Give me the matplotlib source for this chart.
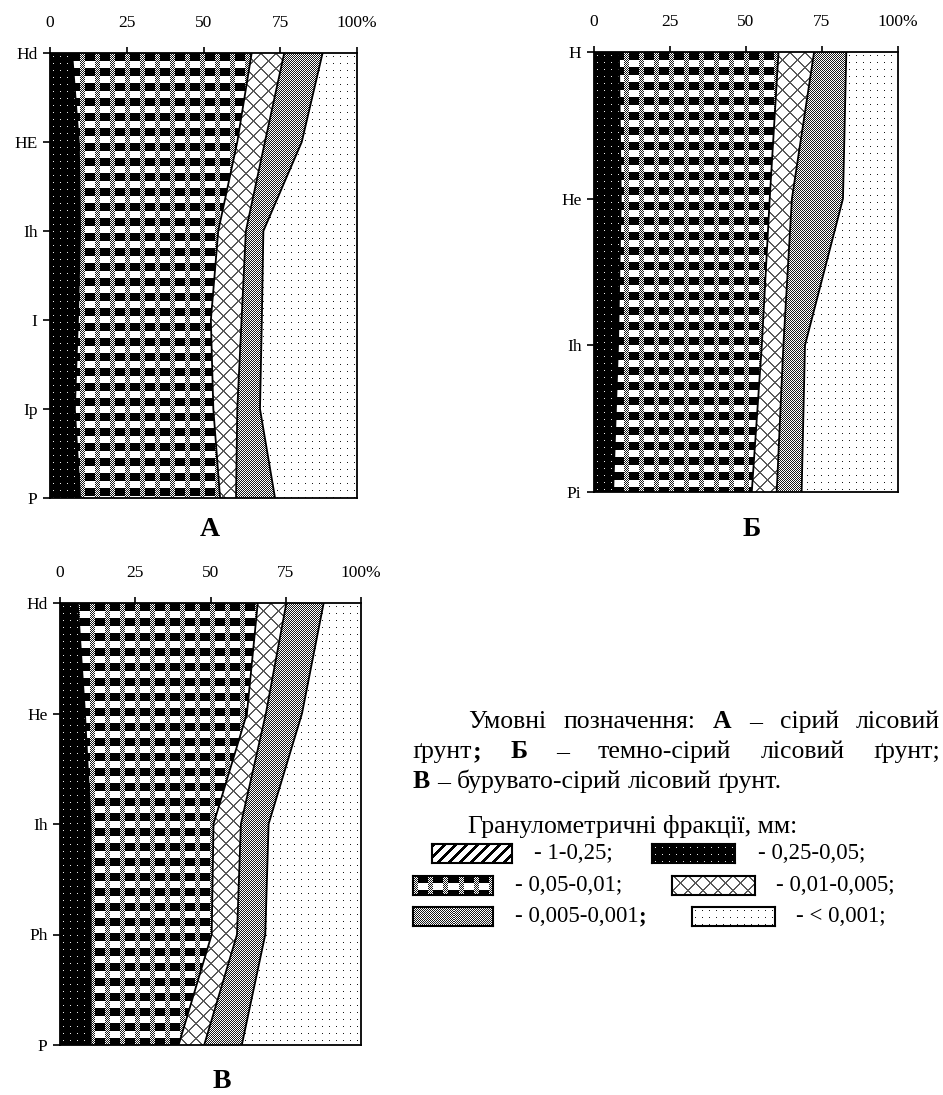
import numpy as np
import matplotlib
matplotlib.use("Agg")
import matplotlib.pyplot as plt

plt.rcParams['font.family'] = ['Liberation Serif', 'DejaVu Serif']

W, H = 943, 1095

# ---------------- data (percent of each fraction per horizon) ----------------
fraction_labels = ["- 1-0,25;", "- 0,25-0,05;", "- 0,05-0,01;", "- 0,01-0,005;",
                   "- 0,005-0,001", "- < 0,001;"]
x_ticks = [0, 25, 50, 75, 100]
x_tick_labels = ["0", "25", "50", "75", "100%"]

horizons_A = ["Hd", "HE", "Ih", "I", "Ip", "P"]
A_1_025 = [0, 0, 0, 0, 0, 0]
A_025_005 = [7.2, 9.4, 9.8, 9.1, 8.1, 9.8]
A_005_001 = [58.5, 51.6, 45.0, 43.3, 45.1, 45.6]
A_001_0005 = [10.6, 9.0, 9.0, 10.0, 7.8, 5.2]
A_0005_0001 = [12.5, 12.0, 5.7, 6.6, 7.4, 12.7]
A_lt_0001 = [11.2, 18.0, 30.5, 31.0, 31.6, 26.7]

horizons_B = ["H", "He", "Ih", "Pi"]
B_1_025 = [0, 0, 0, 0]
B_025_005 = [8.2, 8.8, 7.9, 6.3]
B_005_001 = [52.5, 49.0, 47.3, 45.6]
B_001_0005 = [11.7, 7.3, 7.1, 8.2]
B_0005_0001 = [10.6, 16.8, 7.1, 8.2]
B_lt_0001 = [17.0, 18.1, 30.6, 31.7]

horizons_V = ["Hd", "He", "Ih", "Ph", "P"]
V_1_025 = [0, 0, 0, 0, 0]
V_025_005 = [5.9, 8.3, 10.2, 10.2, 10.2]
V_005_001 = [59.8, 53.8, 40.8, 40.2, 29.2]
V_001_0005 = [9.5, 6.3, 9.1, 8.4, 8.5]
V_0005_0001 = [12.4, 12.0, 9.2, 9.4, 12.5]
V_lt_0001 = [12.4, 19.6, 30.7, 31.8, 39.6]

# ---------------- textures ----------------
def _grid(h, w):
    return np.mgrid[0:h, 0:w]

def tex_diag(h, w):
    y, x = _grid(h, w)
    v = np.where(((x + y) % 11) < 4, 0.0, 1.0)
    return np.dstack([v, v, v])

def tex_black_dots(h, w):
    y, x = _grid(h, w)
    v = np.zeros((h, w))
    v[((x % 7) == 3) & ((y % 7) == 3)] = 0.92
    return np.dstack([v, v, v])

def _gray_v(h, w):
    y, x = _grid(h, w)
    v = np.ones((h, w))
    v[((x + y) % 2 == 0)] = 0.1
    v[((x % 4) == 0) & ((y % 4) == 1)] = 1.0
    return v

def tex_gray(h, w):
    v = _gray_v(h, w)
    return np.dstack([v, v, v])

def tex_check(h, w):
    y, x = _grid(h, w)
    v = np.ones((h, w))
    v[(y % 15) < 8] = 0.0
    g = _gray_v(h, w)
    stripe = (x % 15) < 5
    v[stripe] = g[stripe]
    return np.dstack([v, v, v])

def tex_cross(h, w):
    y, x = _grid(h, w)
    v = np.ones((h, w))
    v[(((x + y) % 15) < 2) | (((x - y) % 15) < 2)] = 0.35
    return np.dstack([v, v, v])

def tex_light_dots(h, w):
    y, x = _grid(h, w)
    v = np.ones((h, w))
    v[((x % 7) == 3) & ((y % 7) == 3)] = 0.1
    return np.dstack([v, v, v])

textures = [tex_diag, tex_black_dots, tex_check, tex_cross, tex_gray, tex_light_dots]

fig = plt.figure(figsize=(W / 100, H / 100), dpi=100)


def draw_panel(rect_px, horizons, fracs, letter, letter_xy):
    l, t, r, b = rect_px
    ax = fig.add_axes([l / W, 1 - b / H, (r - l) / W, (b - t) / H])
    n = len(horizons)
    y = np.arange(n)
    cum = np.vstack([np.zeros(n), np.cumsum(np.array(fracs, dtype=float), axis=0)])
    wpx, hpx = int(round(r - l)), int(round(b - t))
    for k, tex in enumerate(textures):
        poly = ax.fill_betweenx(y, cum[k], cum[k + 1], facecolor='none',
                                linewidth=0, zorder=1)
        im = ax.imshow(tex(hpx, wpx), extent=(0, 100, n - 1, 0), aspect='auto',
                       interpolation='nearest', zorder=1)
        im.set_clip_path(poly.get_paths()[0], ax.transData)
    for k in range(2, 6):
        ax.plot(cum[k], y, color='black', lw=1.3, zorder=3)
    ax.set_xlim(0, 100)
    ax.set_ylim(n - 1, 0)
    ax.xaxis.tick_top()
    ax.set_xticks(x_ticks)
    ax.set_xticklabels(x_tick_labels)
    ax.set_yticks(y)
    ax.set_yticklabels(horizons)
    ax.tick_params(axis='x', direction='out', length=4, width=1.2, pad=12,
                   labelsize=12.5)
    ax.tick_params(axis='y', direction='out', length=5, width=1.2, pad=4,
                   labelsize=12.5)
    for s in ax.spines.values():
        s.set_linewidth(1.3)
        s.set_color('black')
        s.set_zorder(4)
    fig.text(letter_xy[0] / W, 1 - letter_xy[1] / H, letter, fontsize=20,
             fontweight='bold', ha='center', va='center')
    return ax


draw_panel((50, 53, 357, 498), horizons_A,
           [A_1_025, A_025_005, A_005_001, A_001_0005, A_0005_0001, A_lt_0001],
           "А", (210, 530))
draw_panel((594, 52, 898, 492), horizons_B,
           [B_1_025, B_025_005, B_005_001, B_001_0005, B_0005_0001, B_lt_0001],
           "Б", (752, 530))
draw_panel((60, 603, 361, 1045), horizons_V,
           [V_1_025, V_025_005, V_005_001, V_001_0005, V_0005_0001, V_lt_0001],
           "В", (222, 1081))

# ---------------- right-hand text ----------------
FS = 18.5
FS_LEG = 16.5
renderer = fig.canvas.get_renderer()


def measure(s, bold=False, fs=FS):
    t = fig.text(0, 0, s, fontsize=fs, fontweight='bold' if bold else 'normal')
    w = t.get_window_extent(renderer).width
    t.remove()
    return w


space_w = measure("a a") - measure("aa")


def place_line(words, x0, x1, ybase, justify=True):
    widths = [[measure(s, b) for s, b in wd] for wd in words]
    totals = [sum(ws) for ws in widths]
    if justify and len(words) > 1:
        gap = (x1 - x0 - sum(totals)) / (len(words) - 1)
    else:
        gap = space_w
    x = x0
    for wd, ws in zip(words, widths):
        for (s, b), wpx in zip(wd, ws):
            fig.text(x / W, 1 - ybase / H, s, fontsize=FS,
                     fontweight='bold' if b else 'normal', ha='left',
                     va='baseline')
            x += wpx
        x += gap


line1 = [[("Умовні", False)], [("позначення:", False)], [("А", True)],
         [("–", False)], [("сірий", False)], [("лісовий", False)]]
line2 = [[("ґрунт", False), (";", True)], [("Б", True)], [("–", False)],
         [("темно-сірий", False)], [("лісовий", False)], [("ґрунт;", False)]]
line3 = [[("В", True)], [("–", False)], [("бурувато-сірий", False)],
         [("лісовий", False)], [("ґрунт.", False)]]

place_line(line1, 468, 940, 728)
place_line(line2, 413, 940, 758)
place_line(line3, 413, 940, 788, justify=False)

fig.text(468 / W, 1 - 833 / H, "Гранулометричні фракції, мм:", fontsize=FS,
         ha='left', va='baseline')

# ---------------- legend ----------------
legend_items = [
    # (patch x0, x1, row y, text x)
    (432, 512, 853, 534),
    (652, 735, 853, 758),
    (413, 493, 885, 515),
    (672, 755, 885, 776),
    (413, 493, 916, 515),
    (692, 775, 916, 796),
]
for k, (px0, px1, py, tx) in enumerate(legend_items):
    ph = 19
    lax = fig.add_axes([px0 / W, 1 - (py + ph / 2) / H, (px1 - px0) / W, ph / H])
    lax.imshow(textures[k](ph, int(px1 - px0)), aspect='auto',
               interpolation='nearest')
    lax.set_xticks([])
    lax.set_yticks([])
    for s in lax.spines.values():
        s.set_linewidth(1.5)
        s.set_color('black')
    t = fig.text(tx / W, 1 - (py + 6) / H, fraction_labels[k], fontsize=FS_LEG,
                 ha='left', va='baseline')
    if k == 4:
        wl = measure(fraction_labels[k], fs=FS_LEG)
        fig.text((tx + wl) / W, 1 - (py + 6) / H, ";", fontsize=FS_LEG,
                 fontweight='bold', ha='left', va='baseline')

fig.savefig("out.png", dpi=100)
